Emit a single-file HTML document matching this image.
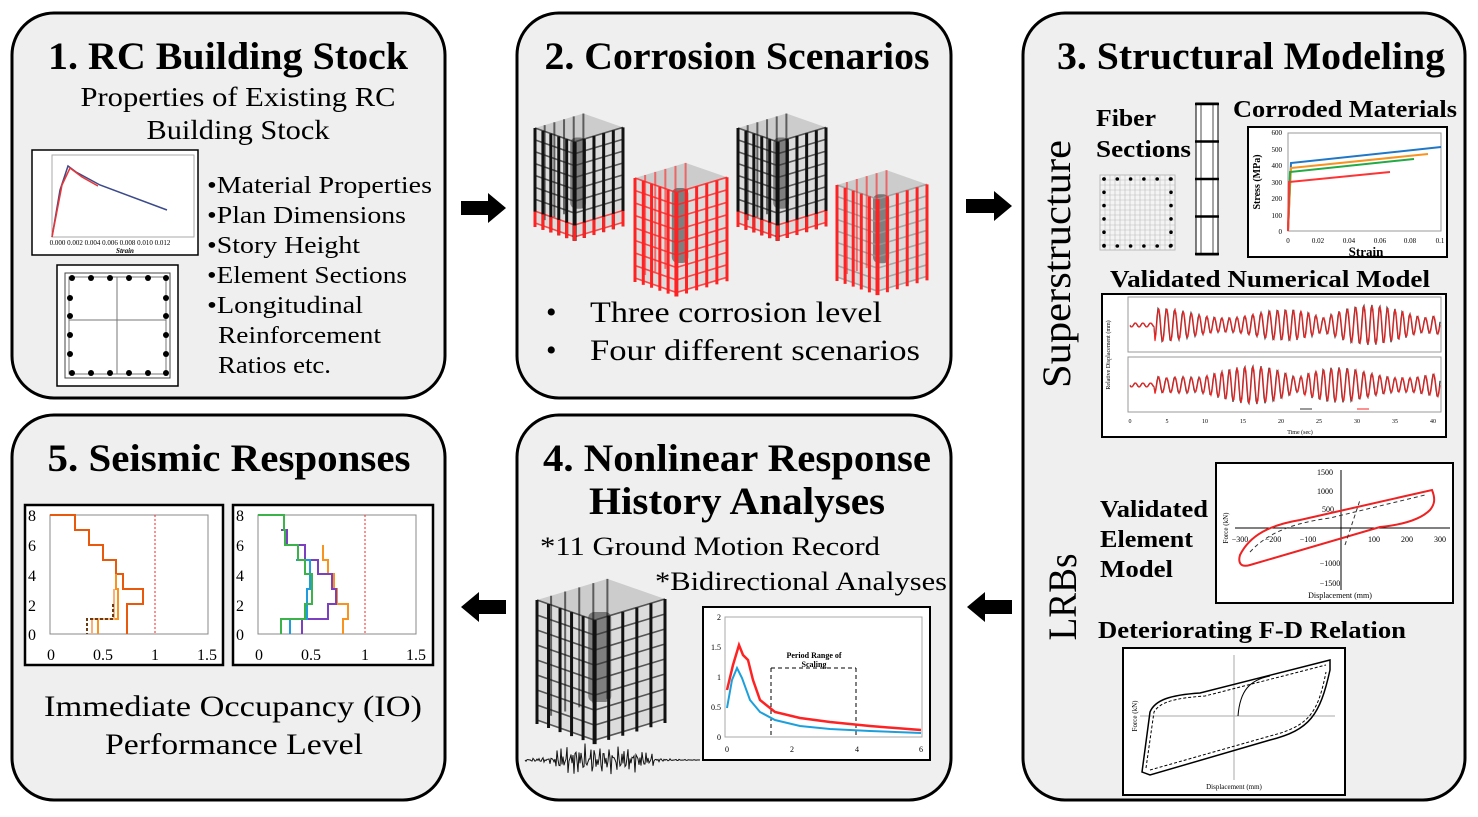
<!DOCTYPE html>
<html><head><meta charset="utf-8"><style>
html,body{margin:0;padding:0;background:#fff;}
svg{display:block;}
text{font-family:"Liberation Serif",serif;}
.t{font-weight:bold;font-size:39px;text-anchor:middle;}
.b{font-weight:bold;font-size:24px;}
</style></head><body>
<svg id="s" width="1478" height="817" viewBox="0 0 1478 817" xmlns="http://www.w3.org/2000/svg">
<g fill="#efefef" stroke="#000" stroke-width="3">
<rect x="12" y="13" width="433" height="385" rx="42"/>
<rect x="517" y="13" width="434" height="385" rx="42"/>
<rect x="1023" y="13" width="442" height="787" rx="42"/>
<rect x="12" y="415" width="433" height="385" rx="42"/>
<rect x="517" y="415" width="434" height="385" rx="42"/>
</g>
<g fill="#000">
<polygon points="461,201 488,201 488,193 506,208 488,223 488,215 461,215"/>
<polygon points="966,199 994,199 994,191 1012,206 994,221 994,213 966,213"/>
<polygon points="506,600 479,600 479,592 461,607 479,622 479,614 506,614"/>
<polygon points="1012,600 985,600 985,592 967,607 985,622 985,614 1012,614"/>
</g>
<g lengthAdjust="spacingAndGlyphs">
<!-- Panel 1 -->
<text class="t" x="228" y="69" textLength="360" lengthAdjust="spacingAndGlyphs">1. RC Building Stock</text>
<text x="238" y="106" font-size="27" text-anchor="middle" textLength="315" lengthAdjust="spacingAndGlyphs">Properties of Existing RC</text>
<text x="238" y="139" font-size="27" text-anchor="middle" textLength="183" lengthAdjust="spacingAndGlyphs">Building Stock</text>
</g>
<rect x="32" y="150" width="166" height="105" fill="#fff" stroke="#000" stroke-width="1.5"/>
<rect x="52" y="155" width="142" height="82" fill="none" stroke="#aaa"/>
<polyline points="52,237 60,190 68,166 76,172 100,185 167,210" fill="none" stroke="#3b4a8a" stroke-width="1.5"/>
<polyline points="52,237 62,185 70,168 82,177 98,186" fill="none" stroke="#e33" stroke-width="1.5"/>
<text x="110" y="245" font-size="7" text-anchor="middle">0.000 0.002 0.004 0.006 0.008 0.010 0.012</text>
<text x="125" y="253" font-size="7" font-style="italic" font-weight="bold" text-anchor="middle">Strain</text>
<rect x="57" y="265" width="121" height="121" fill="#fff" stroke="#000" stroke-width="1.5"/>
<rect x="65" y="273" width="105" height="105" fill="none" stroke="#444"/>
<rect x="69" y="277" width="97" height="97" fill="none" stroke="#777"/>
<line x1="117" y1="277" x2="117" y2="374" stroke="#777"/><line x1="69" y1="320" x2="166" y2="320" stroke="#777"/>
<g id="sec1"></g>
<g font-size="24">
<text x="207" y="193" textLength="225" lengthAdjust="spacingAndGlyphs">•Material Properties</text>
<text x="207" y="223" textLength="199" lengthAdjust="spacingAndGlyphs">•Plan Dimensions</text>
<text x="207" y="253" textLength="153" lengthAdjust="spacingAndGlyphs">•Story Height</text>
<text x="207" y="283" textLength="200" lengthAdjust="spacingAndGlyphs">•Element Sections</text>
<text x="207" y="313" textLength="156" lengthAdjust="spacingAndGlyphs">•Longitudinal</text>
<text x="218" y="343" textLength="163" lengthAdjust="spacingAndGlyphs">Reinforcement</text>
<text x="218" y="373" textLength="113" lengthAdjust="spacingAndGlyphs">Ratios etc.</text>
</g>
<!-- Panel 2 -->
<text class="t" x="737" y="69" textLength="385" lengthAdjust="spacingAndGlyphs">2. Corrosion Scenarios</text>
<g id="blds"></g>
<g font-size="30">
<text x="546" y="322">•</text><text x="590" y="322" textLength="292" lengthAdjust="spacingAndGlyphs">Three corrosion level</text>
<text x="546" y="360">•</text><text x="590" y="360" textLength="330" lengthAdjust="spacingAndGlyphs">Four different scenarios</text>
</g>
<!-- Panel 3 -->
<text class="t" x="1251" y="69" textLength="388" lengthAdjust="spacingAndGlyphs">3. Structural Modeling</text>
<text transform="translate(1070,264) rotate(-90)" font-size="40" text-anchor="middle" textLength="248" lengthAdjust="spacingAndGlyphs">Superstructure</text>
<text transform="translate(1076,597) rotate(-90)" font-size="40" text-anchor="middle" textLength="87" lengthAdjust="spacingAndGlyphs">LRBs</text>
<text class="b" x="1096" y="126" textLength="60" lengthAdjust="spacingAndGlyphs">Fiber</text>
<text class="b" x="1096" y="157" textLength="95" lengthAdjust="spacingAndGlyphs">Sections</text>
<g id="fiber"></g>
<text class="b" x="1233" y="117" textLength="224" lengthAdjust="spacingAndGlyphs">Corroded Materials</text>
<rect x="1248" y="127" width="199" height="130" fill="#fff" stroke="#000" stroke-width="2"/>
<rect x="1288" y="133" width="153" height="98" fill="none" stroke="#999"/>
<g font-size="7" text-anchor="end"><text x="1282" y="135">600</text><text x="1282" y="152">500</text><text x="1282" y="168">400</text><text x="1282" y="185">300</text><text x="1282" y="201">200</text><text x="1282" y="218">100</text><text x="1282" y="234">0</text></g>
<g font-size="7" text-anchor="middle"><text x="1288" y="243">0</text><text x="1318" y="243">0.02</text><text x="1349" y="243">0.04</text><text x="1380" y="243">0.06</text><text x="1410" y="243">0.08</text><text x="1440" y="243">0.1</text></g>
<text x="1366" y="256" font-size="13" font-weight="bold" text-anchor="middle">Strain</text>
<text transform="translate(1260,182) rotate(-90)" font-size="10" font-weight="bold" text-anchor="middle">Stress (MPa)</text>
<polyline points="1288,231 1291,163 1441,147" fill="none" stroke="#1f77c8" stroke-width="2"/>
<polyline points="1288,231 1291,168 1428,154" fill="none" stroke="#f7931e" stroke-width="2"/>
<polyline points="1288,231 1290,172 1414,159" fill="none" stroke="#22aa44" stroke-width="2"/>
<polyline points="1288,231 1289,182 1390,172" fill="none" stroke="#f33" stroke-width="2"/>
<text class="b" x="1270" y="287" text-anchor="middle" textLength="320" lengthAdjust="spacingAndGlyphs">Validated Numerical Model</text>
<rect x="1102" y="294" width="344" height="143" fill="#fff" stroke="#000" stroke-width="2"/>
<rect x="1128" y="297" width="313" height="55" fill="none" stroke="#999"/>
<rect x="1128" y="357" width="313" height="55" fill="none" stroke="#999"/>
<g id="waves"></g>
<g font-size="6" text-anchor="middle"><text x="1130" y="423">0</text><text x="1167" y="423">5</text><text x="1205" y="423">10</text><text x="1243" y="423">15</text><text x="1281" y="423">20</text><text x="1319" y="423">25</text><text x="1357" y="423">30</text><text x="1395" y="423">35</text><text x="1433" y="423">40</text><text x="1300" y="434">Time (sec)</text></g>
<text transform="translate(1110,355) rotate(-90)" font-size="6" text-anchor="middle">Relative Displacement (mm)</text>
<text class="b" x="1100" y="517" textLength="108" lengthAdjust="spacingAndGlyphs">Validated</text>
<text class="b" x="1100" y="547" textLength="93" lengthAdjust="spacingAndGlyphs">Element</text>
<text class="b" x="1100" y="577" textLength="73" lengthAdjust="spacingAndGlyphs">Model</text>
<rect x="1216" y="463" width="237" height="140" fill="#fff" stroke="#000" stroke-width="2"/>
<line x1="1235" y1="528" x2="1450" y2="528" stroke="#000"/>
<line x1="1341" y1="470" x2="1341" y2="590" stroke="#000"/>
<g font-size="8" text-anchor="middle"><text x="1325" y="475">1500</text><text x="1325" y="494">1000</text><text x="1328" y="512">500</text><text x="1330" y="566">−1000</text><text x="1330" y="586">−1500</text><text x="1240" y="542">−300</text><text x="1273" y="542">−200</text><text x="1308" y="542">−100</text><text x="1374" y="542">100</text><text x="1407" y="542">200</text><text x="1440" y="542">300</text><text x="1340" y="598">Displacement (mm)</text></g>
<text transform="translate(1228,528) rotate(-90)" font-size="7" text-anchor="middle">Force (kN)</text>
<path d="M1240,555 C1250,535 1270,525 1300,520 L1432,490 C1436,500 1434,505 1430,510 C1420,520 1400,525 1380,527 L1250,565 C1240,568 1238,562 1240,555 Z" fill="none" stroke="#e22" stroke-width="2"/>
<path d="M1250,552 C1270,530 1300,522 1330,518 L1425,495 M1345,545 L1360,500" fill="none" stroke="#333" stroke-dasharray="4,3"/>
<text class="b" x="1252" y="638" text-anchor="middle" textLength="308" lengthAdjust="spacingAndGlyphs">Deteriorating F-D Relation</text>
<rect x="1123" y="648" width="222" height="147" fill="#fff" stroke="#000" stroke-width="2"/>
<line x1="1140" y1="716" x2="1335" y2="716" stroke="#aaa"/><line x1="1234" y1="655" x2="1234" y2="780" stroke="#aaa"/>
<path d="M1142,772 L1150,712 C1155,700 1170,695 1200,693 L1330,660 L1330,670 C1320,715 1310,730 1270,740 L1150,775 Z" fill="none" stroke="#000" stroke-width="1.5"/>
<path d="M1146,768 L1154,712 C1160,702 1175,698 1205,696 L1326,665 M1150,770 L1270,736 C1310,726 1318,712 1326,672" fill="none" stroke="#000" stroke-dasharray="3,2"/>
<path d="M1238,716 C1240,690 1250,680 1270,676" fill="none" stroke="#000"/>
<text x="1234" y="789" font-size="7" text-anchor="middle">Displacement (mm)</text>
<text transform="translate(1137,716) rotate(-90)" font-size="7" text-anchor="middle">Force (kN)</text>
<!-- Panel 4 -->
<text class="t" x="737" y="471" textLength="388" lengthAdjust="spacingAndGlyphs">4. Nonlinear Response</text>
<text class="t" x="737" y="514" textLength="296" lengthAdjust="spacingAndGlyphs">History Analyses</text>
<text x="540" y="555" font-size="26" textLength="340" lengthAdjust="spacingAndGlyphs">*11 Ground Motion Record</text>
<text x="655" y="590" font-size="26" textLength="292" lengthAdjust="spacingAndGlyphs">*Bidirectional Analyses</text>
<g id="bld4"></g>
<polyline id="gm" fill="none" stroke="#111" stroke-width="1"/>
<rect x="703" y="607" width="227" height="153" fill="#fff" stroke="#000" stroke-width="2"/>
<rect x="725" y="617" width="197" height="120" fill="none" stroke="#aaa"/>
<g font-size="8" text-anchor="end"><text x="721" y="620">2</text><text x="721" y="650">1.5</text><text x="721" y="680">1</text><text x="721" y="710">0.5</text><text x="721" y="740">0</text></g>
<g font-size="8" text-anchor="middle"><text x="727" y="752">0</text><text x="792" y="752">2</text><text x="857" y="752">4</text><text x="921" y="752">6</text></g>
<line x1="771" y1="668" x2="771" y2="737" stroke="#000" stroke-dasharray="4,3"/>
<line x1="856" y1="668" x2="856" y2="737" stroke="#000" stroke-dasharray="4,3"/>
<line x1="771" y1="668" x2="856" y2="668" stroke="#000" stroke-dasharray="4,3"/>
<text x="814" y="658" font-size="8" font-weight="bold" text-anchor="middle">Period Range of</text>
<text x="814" y="667" font-size="8" font-weight="bold" text-anchor="middle">Scaling</text>
<polyline points="727,708 732,680 737,668 742,678 750,700 760,712 775,720 800,726 830,729 870,731 921,733" fill="none" stroke="#1ca0dc" stroke-width="2"/>
<polyline points="727,690 733,665 739,645 743,655 748,660 753,680 760,700 775,712 800,718 830,722 870,726 921,730" fill="none" stroke="#f22" stroke-width="2.5"/>
<!-- Panel 5 -->
<text class="t" x="229" y="471" textLength="363" lengthAdjust="spacingAndGlyphs">5. Seismic Responses</text>
<rect x="25" y="505" width="198" height="160" fill="#fff" stroke="#000" stroke-width="2.5"/>
<rect x="233" y="505" width="200" height="160" fill="#fff" stroke="#000" stroke-width="2.5"/>
<rect x="50" y="515" width="158" height="119" fill="none" stroke="#888"/>
<rect x="258" y="515" width="158" height="119" fill="none" stroke="#888"/>
<line x1="155" y1="515" x2="155" y2="634" stroke="#f22" stroke-dasharray="2,2"/>
<line x1="365" y1="515" x2="365" y2="634" stroke="#f22" stroke-dasharray="2,2"/>
<g font-size="16" text-anchor="middle">
<text x="32" y="521">8</text><text x="32" y="551">6</text><text x="32" y="581">4</text><text x="32" y="611">2</text><text x="32" y="640">0</text>
<text x="51" y="660">0</text><text x="103" y="660">0.5</text><text x="155" y="660">1</text><text x="207" y="660">1.5</text>
<text x="240" y="521">8</text><text x="240" y="551">6</text><text x="240" y="581">4</text><text x="240" y="611">2</text><text x="240" y="640">0</text>
<text x="259" y="660">0</text><text x="311" y="660">0.5</text><text x="365" y="660">1</text><text x="416" y="660">1.5</text>
</g>
<g fill="none" stroke-width="2">
<polyline stroke="#e8590c" points="50,515 75,515 75,530 89,530 89,545 103,545 103,560 116,560 116,574 123,574 123,589 143,589 143,604 127,604 127,634"/>
<polyline stroke="#f7931e" points="116,574 116,589 118,589 118,619 98,619 98,634"/>
<polyline stroke="#fbb07a" points="114,589 114,619 92,619 92,634"/>
<polyline stroke="#6b3a10" stroke-dasharray="3,2" points="113,604 113,619 87,619 87,634"/>
<polyline stroke="#f7931e" points="323,545 323,560 328,560 328,574 334,574 334,589 337,589 337,604 348,604 348,619 343,619 343,634"/>
<polyline stroke="#7b3fbf" points="281,530 287,530 287,545 305,545 305,560 318,560 318,574 332,574 332,589 336,589 336,604 328,604 328,619 302,619 302,634"/>
<polyline stroke="#1f9be0" points="296,560 310,560 310,589 307,589 307,619 290,619 290,634"/>
<polyline stroke="#3bb34a" points="258,515 284,515 284,530 285,530 285,545 298,545 298,560 305,560 305,574 312,574 312,604 305,604 305,619 281,619 281,634"/>
</g>
<text x="233" y="716" font-size="30" text-anchor="middle" textLength="378" lengthAdjust="spacingAndGlyphs">Immediate Occupancy (IO)</text>
<text x="234" y="754" font-size="30" text-anchor="middle" textLength="258" lengthAdjust="spacingAndGlyphs">Performance Level</text>
</svg>
<script>
var NS="http://www.w3.org/2000/svg";
function el(p,t,a){var e=document.createElementNS(NS,t);for(var k in a)e.setAttribute(k,a[k]);p.appendChild(e);return e;}
var g=document.getElementById('sec1');
[[72,278],[91,278],[110,278],[129,278],[148,278],[166,278],[72,373],[91,373],[110,373],[129,373],[148,373],[166,373],[70,298],[70,316],[70,335],[70,354],[166,298],[166,316],[166,335],[166,354]].forEach(function(p){el(g,'circle',{cx:p[0],cy:p[1],r:3,fill:'#000'});});
g=document.getElementById('fiber');
el(g,'rect',{x:1100,y:175,width:75,height:75,fill:'#f4f4f4',stroke:'#bbb'});
for(var i=0;i<=15;i++){el(g,'line',{x1:1100+i*5,y1:175,x2:1100+i*5,y2:250,stroke:'#bbb','stroke-width':.6});el(g,'line',{x1:1100,y1:175+i*5,x2:1175,y2:175+i*5,stroke:'#bbb','stroke-width':.6});}
for(i=0;i<6;i++){el(g,'circle',{cx:1104+i*13.3,cy:179,r:1.8,fill:'#000'});el(g,'circle',{cx:1104+i*13.3,cy:246,r:1.8,fill:'#000'});el(g,'circle',{cx:1104,cy:179+i*13.3,r:1.8,fill:'#000'});el(g,'circle',{cx:1171,cy:179+i*13.3,r:1.8,fill:'#000'});}
el(g,'rect',{x:1196,y:103,width:22,height:152,fill:'#fff',stroke:'#000'});
el(g,'line',{x1:1201,y1:103,x2:1201,y2:255,stroke:'#000','stroke-width':.7});el(g,'line',{x1:1213,y1:103,x2:1213,y2:255,stroke:'#000','stroke-width':.7});
for(i=0;i<5;i++)el(g,'line',{x1:1195,y1:104+i*37.5,x2:1219,y2:104+i*37.5,stroke:'#000','stroke-width':2.5});
// buildings with perspective: top face visible
function bld(p,x,y,w,h,cc,bc,baseRed){
 var L=w*0.45,R=w*0.55,dL=L*0.35,dR=R*0.3;
 var cx=x+L,cy=y+dL,rx=x+w,ry=cy-dR;
 var bx=x+R,by=y-dR; // back corner
 el(p,'polygon',{points:[x,y,bx,by,rx,ry,cx,cy].join(','),fill:'#aaa','fill-opacity':.5});
 el(p,'polygon',{points:[x,y,cx,cy,rx,ry,rx,ry+h,cx,cy+h,x,y+h].join(','),fill:'#bbb','fill-opacity':.35});
 el(p,'rect',{x:x+w*0.4,y:y+h*0.1,width:w*0.18,height:h*0.75,rx:6,fill:'#333','fill-opacity':.55});
 var n=8;
 for(var f=0;f<=n;f++){var yy=f*h/n;var col=(baseRed&&f>=n-1)?'#f22':bc;
  el(p,'polyline',{points:[x,y+yy,cx,cy+yy,rx,ry+yy].join(','),fill:'none',stroke:col,'stroke-width':1.6,'stroke-opacity':.8});}
 // back columns
 for(var c=0;c<=5;c++){var t=c/5;el(p,'line',{x1:x+R*t,y1:y-dR*t,x2:x+R*t,y2:y-dR*t+h,stroke:cc,'stroke-width':2,'stroke-opacity':.6});}
 for(c=0;c<=5;c++){var t=c/5;var X=x+L*t,Y=y+dL*t;el(p,'line',{x1:X,y1:Y,x2:X,y2:Y+h+4,stroke:cc,'stroke-width':c==5?4:3});}
 for(c=1;c<=5;c++){var t=c/5;var X=cx+R*t,Y=cy-dR*t;el(p,'line',{x1:X,y1:Y,x2:X,y2:Y+h+4,stroke:cc,'stroke-width':3});}
 if(baseRed){for(c=0;c<=5;c++){var t=c/5;el(p,'line',{x1:x+L*t,y1:y+dL*t+h*0.88,x2:x+L*t,y2:y+dL*t+h+4,stroke:'#f22','stroke-width':3});el(p,'line',{x1:cx+R*t,y1:cy-dR*t+h*0.88,x2:cx+R*t,y2:cy-dR*t+h+4,stroke:'#f22','stroke-width':3});}}
}
g=document.getElementById('blds');
bld(g,535,128,88,95,'#111','#333',true);
bld(g,635,178,92,100,'#f22','#f22',false);
bld(g,738,128,88,95,'#111','#333',true);
bld(g,837,185,90,92,'#f22','#999',false);
bld(document.getElementById('bld4'),537,600,128,120,'#111','#333',false);
var pts=[];for(i=0;i<=175;i++){var a=(i>30&&i<130?14:5)*(Math.sin(i*1.7)*Math.cos(i*0.37)+0.4*Math.sin(i*3.1));pts.push(525+i,760+a*Math.exp(-Math.pow((i-70)/60,2)));}
document.getElementById('gm').setAttribute('points',pts.join(','));
g=document.getElementById('waves');
function wave(y0,seed,col,ph,sc){var p=[];for(var i=0;i<=310;i++){var x=1130+i;var env=i<25?0.1:(0.35+0.65*Math.abs(Math.sin(i*0.031+seed)*Math.cos(i*0.013+seed)));var v=20*sc*env*Math.sin(i*0.8+ph+0.6*Math.sin(i*0.07));p.push(x,y0+v);}el(g,'polyline',{points:p.join(','),fill:'none',stroke:col,'stroke-width':1.1});}
wave(325,0.3,'#333',0.35,1.05);wave(325,0.3,'#f22',0,1);wave(385,1.1,'#333',0.35,1.05);wave(385,1.1,'#f22',0,1);
el(g,'line',{x1:1300,y1:409,x2:1312,y2:409,stroke:'#333'});el(g,'line',{x1:1357,y1:409,x2:1369,y2:409,stroke:'#f22'});
</script>
</body></html>
